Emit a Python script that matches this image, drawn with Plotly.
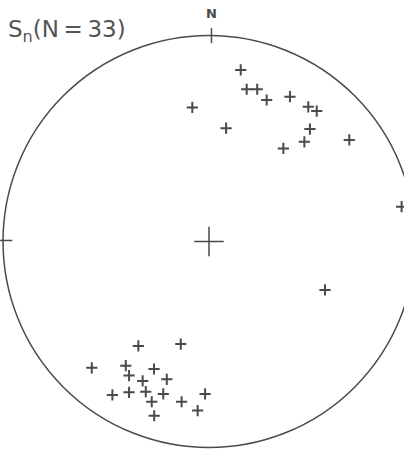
import plotly.graph_objects as go

# Normalised stereonet coordinates (unit circle = primitive)
pole_x = [0.154, 0.183, 0.234, 0.280, 0.393, 0.482, 0.523, -0.081, 0.083, 0.490,
          0.463, 0.681, 0.361, 0.935, 0.563,
          -0.343, -0.137, -0.569, -0.404, -0.267, -0.388, -0.205, -0.322, -0.469,
          -0.388, -0.307, -0.222, -0.019, -0.278, -0.133, -0.055, -0.266]
pole_y = [0.833, 0.739, 0.739, 0.687, 0.703, 0.654, 0.633, 0.651, 0.550, 0.546,
          0.484, 0.493, 0.452, 0.169, -0.235,
          -0.507, -0.498, -0.613, -0.603, -0.619, -0.651, -0.669, -0.677, -0.745,
          -0.732, -0.729, -0.740, -0.740, -0.778, -0.778, -0.821, -0.846]

title_text = "S<sub>n</sub>(N\u2009=\u200933)"
north_label = "N"
ink = "#4a4a4a"

fig = go.Figure()

fig.add_trace(go.Scatter(
    x=pole_x, y=pole_y, mode="markers",
    marker=dict(symbol="cross-thin", size=8, line=dict(width=2, color=ink), color=ink),
    hoverinfo="skip", showlegend=False))

# centre cross
fig.add_trace(go.Scatter(
    x=[0], y=[0], mode="markers",
    marker=dict(symbol="cross-thin", size=21, line=dict(width=1.5, color=ink), color=ink),
    hoverinfo="skip", showlegend=False))

# primitive circle
fig.add_shape(type="circle", xref="x", yref="y", x0=-1, y0=-1, x1=1, y1=1,
              line=dict(color=ink, width=1.5))
# N tick
fig.add_shape(type="line", xref="x", yref="y", x0=0.012, x1=0.012, y0=0.963, y1=1.036,
              line=dict(color=ink, width=1.5))
# W tick
fig.add_shape(type="line", xref="x", yref="y", x0=-1.03, x1=-0.955, y0=0.005, y1=0.005,
              line=dict(color=ink, width=1.5))

fig.add_annotation(x=0.012, y=1.105, xref="x", yref="y", text="<b>" + north_label + "</b>",
                   showarrow=False, font=dict(family="DejaVu Sans", size=13, color=ink))
fig.add_annotation(x=0.0, y=1.0, xref="paper", yref="paper", xanchor="left", yanchor="top",
                   xshift=6, yshift=-14, text=title_text,
                   showarrow=False, font=dict(family="DejaVu Sans", size=23, color="#555"))

fig.update_layout(
    width=404, height=452, margin=dict(l=0, r=0, t=0, b=0),
    paper_bgcolor="white", plot_bgcolor="white",
    xaxis=dict(range=[-1.0146, 0.9466], visible=False, fixedrange=True),
    yaxis=dict(range=[-1.0218, 1.1723], visible=False, fixedrange=True,
               scaleanchor="x", scaleratio=1),
)
fig.write_html("out.html", config={"displayModeBar": False},
               post_script="document.body.style.margin='0px';document.body.style.overflow='hidden';")
